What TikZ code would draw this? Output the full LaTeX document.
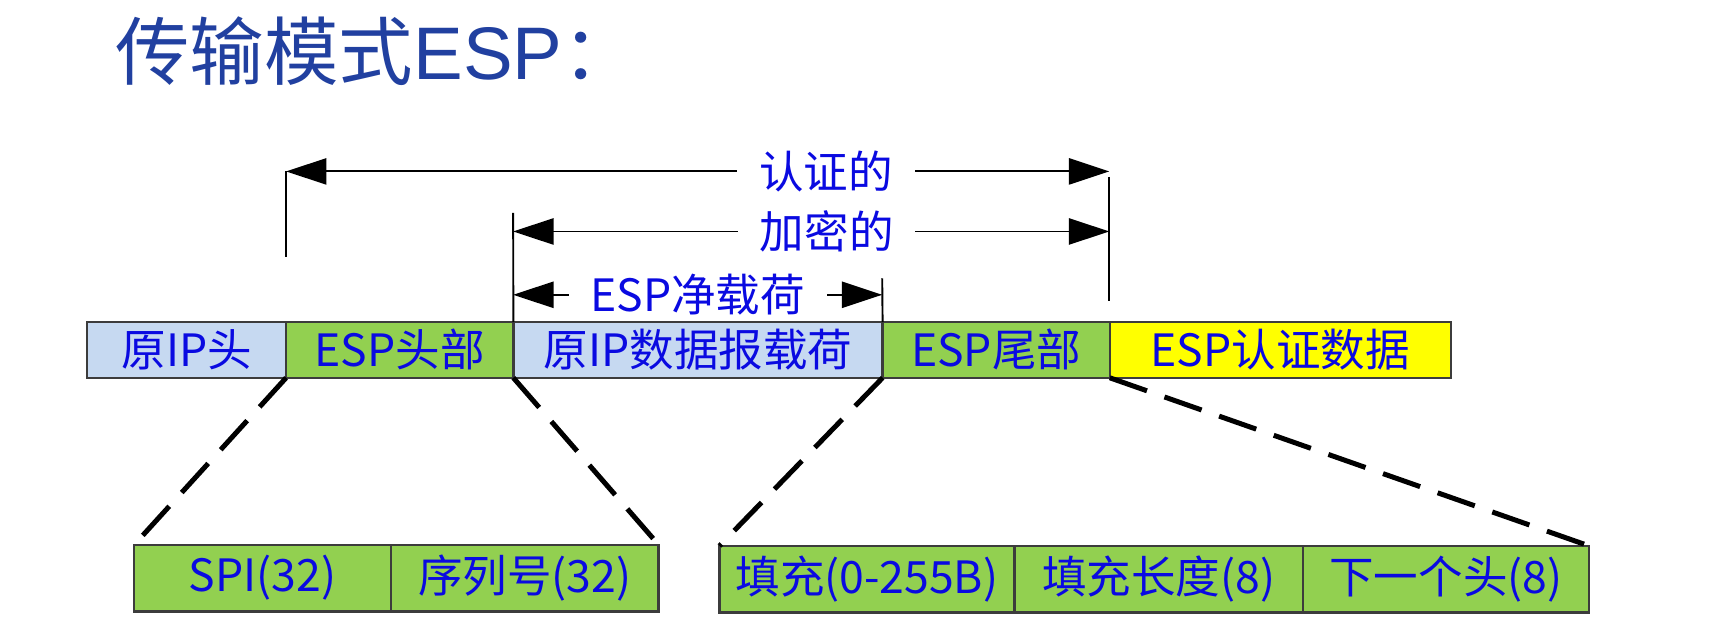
\documentclass[tikz,border=0pt]{standalone}
\usepackage{fontspec}
\newfontfamily\cjk{Noto Sans CJK SC}
\newfontfamily\latin{Liberation Sans}
\usepackage{xcolor}
\usetikzlibrary{arrows.meta}
\definecolor{titleblue}{RGB}{33,64,160}
\definecolor{labelblue}{RGB}{10,10,225}
\definecolor{hdrblue}{RGB}{198,217,241}
\definecolor{espgreen}{RGB}{146,208,80}
\definecolor{authyellow}{RGB}{255,255,0}
\definecolor{edgegray}{RGB}{60,60,60}
\begin{document}
\begin{tikzpicture}[x=0.01cm,y=-0.01cm,line cap=butt,
  field/.style={draw=edgegray,line width=0.6pt,minimum height=0.51cm,inner sep=0pt,outer sep=0pt,
    font=\cjk\fontsize{11.6}{12}\selectfont,text=labelblue},
  subfield/.style={field,fill=espgreen,minimum height=0.61cm},
  span/.style={line width=0.5pt,{Triangle[length=3.7mm,width=2.4mm]}-{Triangle[length=3.7mm,width=2.4mm]}},
  spanlabel/.style={fill=white,inner xsep=0.2cm,inner ysep=0pt,font=\cjk\fontsize{11.6}{12}\selectfont,text=labelblue},
  guide/.style={line width=0.5pt},
  zoomline/.style={line width=1.3pt,dash pattern=on 0.36cm off 0.17cm}]
\useasboundingbox (0,0) rectangle (1568,582);
% title
\node[anchor=base west,inner sep=0pt,text=titleblue] (title) at (105,73)
  {\cjk\fontsize{19.4}{20}\selectfont 传输模式\latin ESP\cjk ：};
% packet
\node[field,fill=hdrblue,minimum width=1.82cm] (iphdr) at (171,320.5) {原IP头};
\node[field,fill=espgreen,minimum width=2.08cm,anchor=west] (esphdr) at (iphdr.east) {ESP头部};
\node[field,fill=hdrblue,minimum width=3.38cm,anchor=west] (payload) at (esphdr.east) {原IP数据报载荷};
\node[field,fill=espgreen,minimum width=2.08cm,anchor=west] (esptrl) at (payload.east) {ESP尾部};
\node[field,fill=authyellow,minimum width=3.12cm,anchor=west] (espauth) at (esptrl.east) {ESP认证数据};
% header fields
\node[subfield,minimum width=2.35cm] (spi) at (240.5,529.5) {SPI(32)};
\node[subfield,minimum width=2.45cm,anchor=west] (seq) at (spi.east) {序列号(32)};
% trailer fields
\node[subfield,minimum width=2.70cm] (pad) at (794,530.5) {填充(0-255B)};
\node[subfield,minimum width=2.64cm,anchor=west] (padlen) at (pad.east) {填充长度(8)};
\node[subfield,minimum width=2.62cm,anchor=west] (nexthdr) at (padlen.east) {下一个头(8)};
% spans
\coordinate (authL) at (262,157);
\coordinate (authR) at (1016,157);
\coordinate (authLfoot) at (262,235);
\coordinate (authRtop) at (1016,162);
\coordinate (authRfoot) at (1016,276);
\coordinate (encL) at (470,212);
\coordinate (encR) at (1016,212);
\coordinate (encLtop) at (470,195);
\coordinate (plL) at (470,270);
\coordinate (plR) at (808,270);
\coordinate (plRtop) at (808,255);
\draw[guide] (authL) -- (authLfoot);
\draw[guide] (authRtop) -- (authRfoot);
\draw[guide] (encLtop) -- (payload.north west);
\draw[guide] (plRtop) -- (payload.north east);
\draw[span] (authL) -- (authR) node[spanlabel,pos=0.656] {认证的};
\draw[span] (encL) -- (encR) node[spanlabel,pos=0.526] {加密的};
\draw[span] (plL) -- (plR) node[spanlabel,midway] {ESP净载荷};
% zoom lines
\draw[zoomline] (esphdr.south west) -- (spi.north west);
\draw[zoomline] (esphdr.south east) -- (seq.north east);
\draw[zoomline] (esptrl.south west) -- (pad.north west);
\draw[zoomline] (esptrl.south east) -- (nexthdr.north east);
\end{tikzpicture}
\end{document}
